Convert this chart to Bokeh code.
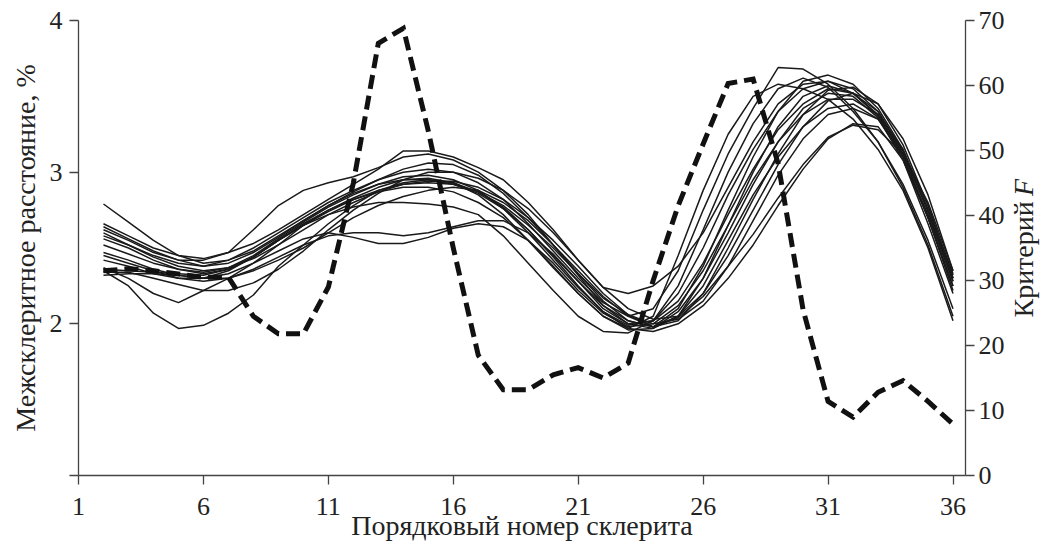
import math
from bokeh.plotting import figure
from bokeh.layouts import row
from bokeh.models import Range1d, LinearAxis, FixedTicker
from bokeh.core.properties import value
from bokeh.embed import file_html
from bokeh.resources import INLINE

x_vals = list(range(2, 37))

L1 = [2.79, 2.67, 2.55, 2.45, 2.40, 2.42, 2.48, 2.58, 2.68, 2.78, 2.86, 2.92, 2.95, 2.95, 2.92, 2.86, 2.76, 2.62, 2.45, 2.28, 2.12, 2.02, 1.98, 2.05, 2.25, 2.55, 2.85, 3.10, 3.30, 3.42, 3.45, 3.35, 3.10, 2.72, 2.28]
L2 = [2.62, 2.55, 2.47, 2.42, 2.42, 2.47, 2.62, 2.78, 2.88, 2.93, 2.97, 3.03, 3.10, 3.12, 3.08, 3.00, 2.88, 2.72, 2.52, 2.32, 2.12, 2.00, 1.97, 2.05, 2.30, 2.65, 3.00, 3.30, 3.50, 3.57, 3.52, 3.38, 3.10, 2.70, 2.25]
L3 = [2.66, 2.58, 2.50, 2.45, 2.43, 2.47, 2.53, 2.62, 2.72, 2.82, 2.92, 3.02, 3.14, 3.14, 3.10, 3.03, 2.95, 2.80, 2.62, 2.42, 2.24, 2.20, 2.25, 2.38, 2.60, 2.90, 3.20, 3.45, 3.58, 3.60, 3.52, 3.37, 3.12, 2.75, 2.33]
L4 = [2.35, 2.25, 2.07, 1.97, 1.99, 2.07, 2.19, 2.38, 2.52, 2.66, 2.78, 2.88, 2.93, 2.95, 2.93, 2.87, 2.77, 2.62, 2.44, 2.25, 2.08, 1.97, 1.95, 2.00, 2.12, 2.30, 2.52, 2.78, 3.02, 3.22, 3.32, 3.30, 3.08, 2.70, 2.25]
L5 = [2.37, 2.30, 2.20, 2.14, 2.22, 2.30, 2.40, 2.52, 2.65, 2.75, 2.82, 2.87, 2.90, 2.90, 2.87, 2.80, 2.70, 2.55, 2.38, 2.20, 2.05, 1.96, 1.97, 2.08, 2.30, 2.60, 2.92, 3.20, 3.42, 3.52, 3.50, 3.36, 3.08, 2.66, 2.20]
L6 = [2.47, 2.42, 2.36, 2.32, 2.30, 2.33, 2.40, 2.48, 2.56, 2.60, 2.57, 2.53, 2.53, 2.57, 2.63, 2.66, 2.64, 2.55, 2.40, 2.22, 2.07, 1.98, 2.00, 2.12, 2.35, 2.65, 2.95, 3.20, 3.38, 3.48, 3.48, 3.38, 3.15, 2.75, 2.30]
L7 = [2.45, 2.40, 2.35, 2.30, 2.28, 2.30, 2.36, 2.44, 2.52, 2.58, 2.60, 2.60, 2.58, 2.60, 2.64, 2.68, 2.68, 2.60, 2.46, 2.28, 2.10, 2.00, 2.02, 2.15, 2.40, 2.72, 3.02, 3.28, 3.45, 3.55, 3.52, 3.40, 3.14, 2.74, 2.28]
L8 = [2.56, 2.50, 2.42, 2.36, 2.33, 2.36, 2.44, 2.55, 2.65, 2.72, 2.77, 2.80, 2.80, 2.79, 2.77, 2.72, 2.58, 2.40, 2.22, 2.05, 1.95, 1.94, 2.02, 2.20, 2.50, 2.85, 3.15, 3.40, 3.55, 3.60, 3.55, 3.40, 3.12, 2.70, 2.22]
L9 = [2.60, 2.52, 2.45, 2.40, 2.38, 2.42, 2.50, 2.60, 2.70, 2.80, 2.88, 2.95, 3.00, 3.02, 3.00, 2.93, 2.82, 2.66, 2.48, 2.30, 2.14, 2.05, 2.10, 2.35, 2.75, 3.12, 3.42, 3.69, 3.68, 3.58, 3.42, 3.20, 2.92, 2.55, 2.10]
L10 = [2.52, 2.46, 2.40, 2.36, 2.34, 2.37, 2.45, 2.56, 2.67, 2.77, 2.85, 2.92, 2.97, 2.98, 2.95, 2.88, 2.76, 2.60, 2.42, 2.24, 2.08, 1.99, 2.02, 2.25, 2.62, 3.00, 3.32, 3.55, 3.62, 3.56, 3.40, 3.20, 2.90, 2.52, 2.05]
L11 = [2.42, 2.38, 2.33, 2.30, 2.30, 2.35, 2.44, 2.55, 2.66, 2.75, 2.83, 2.90, 2.95, 2.96, 2.93, 2.85, 2.72, 2.55, 2.37, 2.20, 2.05, 1.97, 2.05, 2.45, 2.88, 3.25, 3.50, 3.58, 3.55, 3.48, 3.35, 3.15, 2.88, 2.50, 2.02]
L12 = [2.32, 2.33, 2.33, 2.32, 2.30, 2.30, 2.35, 2.42, 2.50, 2.60, 2.70, 2.78, 2.84, 2.88, 2.90, 2.88, 2.80, 2.68, 2.52, 2.35, 2.18, 2.05, 1.98, 2.04, 2.18, 2.38, 2.59, 2.83, 3.05, 3.23, 3.31, 3.28, 3.12, 2.80, 2.35]
L13 = [2.36, 2.35, 2.34, 2.33, 2.32, 2.36, 2.44, 2.55, 2.65, 2.74, 2.82, 2.88, 2.92, 2.93, 2.92, 2.87, 2.78, 2.65, 2.50, 2.33, 2.17, 2.06, 2.00, 2.03, 2.15, 2.38, 2.68, 2.98, 3.22, 3.38, 3.42, 3.35, 3.14, 2.78, 2.32]
L14 = [2.58, 2.52, 2.44, 2.38, 2.35, 2.37, 2.43, 2.52, 2.62, 2.72, 2.80, 2.87, 2.92, 2.94, 2.94, 2.90, 2.82, 2.70, 2.55, 2.38, 2.20, 2.06, 1.98, 2.02, 2.20, 2.50, 2.82, 3.12, 3.38, 3.54, 3.56, 3.45, 3.18, 2.78, 2.30]
L15 = [2.64, 2.56, 2.48, 2.42, 2.38, 2.40, 2.47, 2.57, 2.68, 2.78, 2.87, 2.95, 3.02, 3.06, 3.05, 2.98, 2.86, 2.70, 2.52, 2.33, 2.15, 2.02, 1.98, 2.10, 2.38, 2.75, 3.10, 3.40, 3.60, 3.64, 3.58, 3.42, 3.15, 2.75, 2.30]
L16 = [2.34, 2.34, 2.30, 2.26, 2.22, 2.22, 2.27, 2.36, 2.48, 2.62, 2.75, 2.86, 2.95, 3.00, 3.00, 2.96, 2.88, 2.76, 2.60, 2.42, 2.24, 2.10, 2.03, 2.05, 2.20, 2.45, 2.75, 3.05, 3.30, 3.47, 3.52, 3.45, 3.22, 2.85, 2.35]

series = [L1, L2, L3, L4, L5, L6, L7, L8, L9, L10, L11, L12, L13, L14, L15, L16]

F_vals = [31.5, 31.8, 31.5, 31.0, 30.5, 30.5, 24.5, 21.8, 21.8, 29.0, 45.0, 66.5, 68.8, 53.0, 35.0, 18.5, 13.2, 13.2, 15.5, 16.6, 15.0, 17.3, 30.0, 41.5, 51.0, 60.3, 61.0, 48.0, 25.5, 11.4, 9.0, 12.8, 14.6, 11.4, 7.9]

x_ticks = [1, 6, 11, 16, 21, 26, 31, 36]
left_ticks = [1, 2, 3, 4]
right_ticks = [0, 10, 20, 30, 40, 50, 60, 70]

x_title = "Порядковый номер склерита"
left_title = "Межсклеритное расстояние, %"
right_title = "Критерий"
right_title_var = "F"

FONT = "Liberation Serif"
TXT = "#222222"
AX = "#444444"

p = figure(width=1007, height=546, output_backend="svg", toolbar_location=None,
           x_range=Range1d(1, 36.5), y_range=Range1d(1, 4),
           min_border_left=78, min_border_right=39, min_border_top=20, min_border_bottom=71)
p.outline_line_color = None
p.xgrid.visible = False
p.ygrid.visible = False
p.background_fill_color = "white"
p.border_fill_color = "white"

p.extra_y_ranges = {"F": Range1d(0, 70)}
raxis = LinearAxis(y_range_name="F")
p.add_layout(raxis, "right")

for s in series:
    p.line(x_vals, s, line_color="#1a1a1a", line_width=1.5)

p.line(x_vals, F_vals, y_range_name="F", line_color="#111111", line_width=5,
       line_dash="14 7", line_cap="butt", line_join="miter")

def style(ax, ticks):
    ax.ticker = FixedTicker(ticks=ticks)
    ax.minor_tick_line_color = None
    ax.major_tick_in = 0
    ax.major_tick_out = 9
    ax.major_tick_line_color = AX
    ax.major_tick_line_width = 1.3
    ax.axis_line_color = AX
    ax.axis_line_width = 1.3
    ax.major_label_text_font = FONT
    ax.major_label_text_font_size = "26px"
    ax.major_label_text_color = TXT
    ax.major_label_standoff = 7
    ax.axis_label_text_font = FONT
    ax.axis_label_text_font_size = "28px"
    ax.axis_label_text_font_style = "normal"
    ax.axis_label_text_color = TXT

style(p.xaxis[0], x_ticks)
p.xaxis[0].major_label_standoff = 13
p.xaxis[0].axis_label = x_title
p.xaxis[0].axis_label_standoff = -8
style(p.yaxis[0], left_ticks)
p.yaxis[0].major_label_overrides = {1: ""}
p.yaxis[0].axis_label = left_title
p.yaxis[0].axis_label_standoff = 6
style(raxis, right_ticks)
raxis.major_label_standoff = 4

# narrow side panel holding the right-hand axis title (reads bottom-to-top, F in italic).
# Its frame is aligned with the main frame, so it shares the F scale (0..70).
side = figure(width=36, height=546, output_backend="svg", toolbar_location=None,
              x_range=Range1d(0, 36), y_range=Range1d(0, 70),
              min_border_left=0, min_border_right=0, min_border_top=20, min_border_bottom=71,
              x_axis_type=None, y_axis_type=None)
side.outline_line_color = None
side.xgrid.visible = False
side.ygrid.visible = False
side.background_fill_color = "white"
side.border_fill_color = "white"
side.text(x=[15.5], y=[24.3], text=[right_title], angle=math.pi / 2,
          text_font=value(FONT), text_font_size="28px", text_color=TXT,
          text_align="left", text_baseline="middle")
side.text(x=[15.5], y=[43.0], text=[right_title_var], angle=math.pi / 2,
          text_font=value(FONT), text_font_size="28px", text_color=TXT,
          text_font_style="italic", text_align="left", text_baseline="middle")

layout = row(p, side, spacing=0)
open("out.html", "w").write(file_html(layout, INLINE))
